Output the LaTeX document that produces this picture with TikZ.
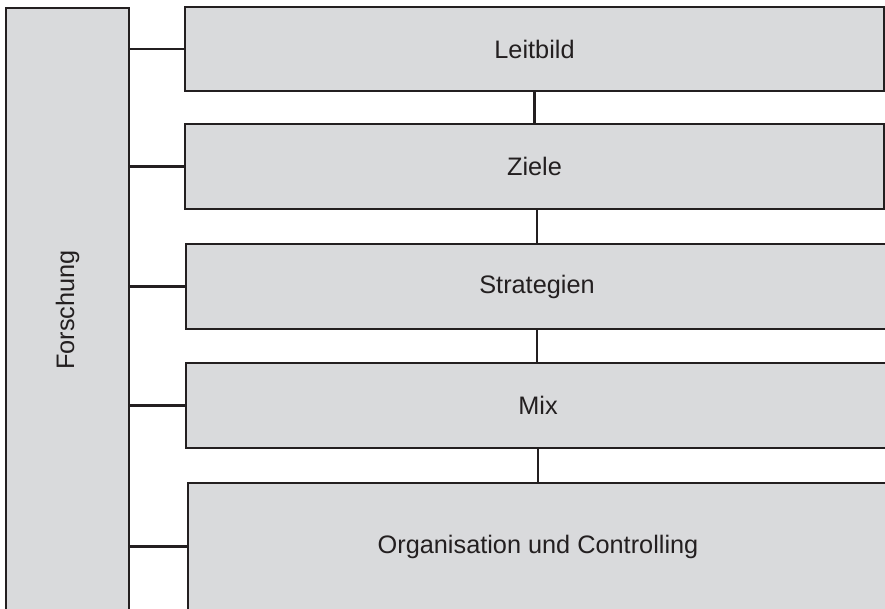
\documentclass[tikz,border=0pt]{standalone}
\usepackage{fontspec}
\setmainfont{Liberation Sans}
\definecolor{boxfill}{RGB}{217,218,220}
\definecolor{ink}{RGB}{35,31,32}
\begin{document}
\begin{tikzpicture}[x=1pt,y=-1pt,
  box/.style={draw=ink, line width=2.2pt, fill=boxfill, rectangle, inner sep=0pt,
    font=\fontsize{25.3}{30}\selectfont, text=ink},
  link/.style={draw=ink, line width=2.4pt}]
\useasboundingbox (0,0) rectangle (885,608);
\clip (0,0) rectangle (885,608);
\node[box, minimum width=123pt, minimum height=604pt] (F) at (67.5,310) {\rotatebox{90}{Forschung}};
\node[box, minimum width=699pt, minimum height=84pt] (L) at (534.5,49) {Leitbild};
\node[box, minimum width=699pt, minimum height=85pt] (Z) at (534.5,166.5) {Ziele};
\node[box, minimum width=702pt, minimum height=85pt] (S) at (537,286.5) {Strategien};
\node[box, minimum width=704pt, minimum height=85pt] (M) at (538,405.5) {Mix};
\node[box, minimum width=700pt, minimum height=127pt] (O) at (538,546.5) {Organisation und Controlling};
\draw[link] (F.east |- L.west) -- (L.west);
\draw[link] (F.east |- Z.west) -- (Z.west);
\draw[link] (F.east |- S.west) -- (S.west);
\draw[link] (F.east |- M.west) -- (M.west);
\draw[link] (F.east |- O.west) -- (O.west);
\draw[link] (L.south) -- (L.south |- Z.north);
\draw[link] (S.north |- Z.south) -- (S.north);
\draw[link] (S.south) -- (S.south |- M.north);
\draw[link] (M.south) -- (M.south |- O.north);
\end{tikzpicture}
\end{document}
